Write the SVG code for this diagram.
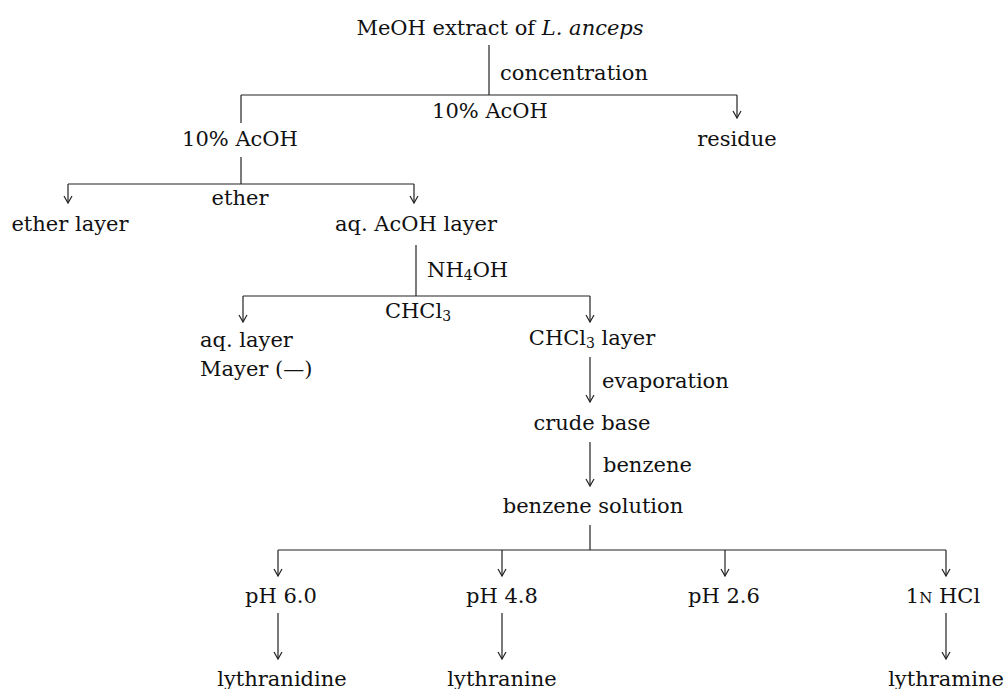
<svg xmlns="http://www.w3.org/2000/svg" width="1008" height="689" viewBox="0 0 1008 689">
<style>
text{font-family:"DejaVu Serif","Liberation Serif",serif;font-size:21px;fill:#111}
.c{text-anchor:middle}
.ln{stroke:#222;stroke-width:1.2;fill:none}
.ar{stroke:#222;stroke-width:1.2;fill:none;marker-end:url(#ah)}
.sub{font-size:14px}
.sc{font-size:15px}
</style>
<defs>
<marker id="ah" markerUnits="userSpaceOnUse" markerWidth="10" markerHeight="10" refX="8" refY="5" orient="auto">
<path d="M1,1 L8,5 L1,9" fill="none" stroke="#222" stroke-width="1.2"/>
</marker>
</defs>
<rect width="1008" height="689" fill="#fff"/>
<g id="connectors">
<line class="ln" x1="489" y1="45" x2="489" y2="95"/>
<line class="ln" x1="241" y1="95" x2="737" y2="95"/>
<line class="ar" x1="737" y1="95" x2="737" y2="118"/>
<line class="ln" x1="241" y1="95" x2="241" y2="123"/>
<line class="ln" x1="241" y1="157" x2="241" y2="184"/>
<line class="ln" x1="68" y1="184" x2="414" y2="184"/>
<line class="ar" x1="68" y1="184" x2="68" y2="203"/>
<line class="ar" x1="414" y1="184" x2="414" y2="203"/>
<line class="ln" x1="416" y1="245" x2="416" y2="296"/>
<line class="ln" x1="243" y1="296" x2="590" y2="296"/>
<line class="ar" x1="243" y1="296" x2="243" y2="322"/>
<line class="ar" x1="590" y1="296" x2="590" y2="322"/>
<line class="ar" x1="590" y1="357" x2="590" y2="402"/>
<line class="ar" x1="590" y1="442" x2="590" y2="486"/>
<line class="ln" x1="590" y1="525" x2="590" y2="550"/>
<line class="ln" x1="278" y1="550" x2="946" y2="550"/>
<line class="ar" x1="278" y1="550" x2="278" y2="576"/>
<line class="ar" x1="502" y1="550" x2="502" y2="576"/>
<line class="ar" x1="725" y1="550" x2="725" y2="576"/>
<line class="ar" x1="946" y1="550" x2="946" y2="576"/>
<line class="ar" x1="278" y1="613" x2="278" y2="659"/>
<line class="ar" x1="502" y1="613" x2="502" y2="659"/>
<line class="ar" x1="946" y1="613" x2="946" y2="659"/>
</g>
<g id="meoh-extract"><text class="c" x="500" y="35">MeOH extract of <tspan font-style="italic">L. anceps</tspan></text></g>
<g id="step-concentration"><text x="500" y="80">concentration</text></g>
<g id="solvent-acoh-1"><text class="c" x="490" y="118">10% AcOH</text></g>
<g id="acoh-10"><text class="c" x="240" y="146">10% AcOH</text></g>
<g id="residue"><text class="c" x="737" y="146">residue</text></g>
<g id="solvent-ether"><text class="c" x="240" y="205">ether</text></g>
<g id="ether-layer"><text class="c" x="70" y="231">ether layer</text></g>
<g id="aq-acoh-layer"><text class="c" x="416" y="231">aq. AcOH layer</text></g>
<g id="step-nh4oh"><text x="427" y="277">NH<tspan class="sub" dy="3">4</tspan><tspan dy="-3">OH</tspan></text></g>
<g id="solvent-chcl3"><text class="c" x="418" y="318">CHCl<tspan class="sub" dy="3">3</tspan></text></g>
<g id="aq-layer"><text x="200" y="347">aq. layer</text><text x="200" y="376">Mayer (—)</text></g>
<g id="chcl3-layer"><text class="c" x="592" y="345">CHCl<tspan class="sub" dy="3">3</tspan><tspan dy="-3"> layer</tspan></text></g>
<g id="step-evaporation"><text x="602" y="388">evaporation</text></g>
<g id="crude-base"><text class="c" x="592" y="430">crude base</text></g>
<g id="step-benzene"><text x="603" y="472">benzene</text></g>
<g id="benzene-solution"><text class="c" x="593" y="513">benzene solution</text></g>
<g id="ph60"><text class="c" x="281" y="603">pH 6.0</text></g>
<g id="ph48"><text class="c" x="502" y="603">pH 4.8</text></g>
<g id="ph26"><text class="c" x="724" y="603">pH 2.6</text></g>
<g id="hcl"><text class="c" x="943" y="603">1<tspan class="sc">N</tspan> HCl</text></g>
<g id="lythranidine"><text class="c" x="282" y="686">lythranidine</text></g>
<g id="lythranine"><text class="c" x="502" y="686">lythranine</text></g>
<g id="lythramine"><text class="c" x="946" y="686">lythramine</text></g>
</svg>
